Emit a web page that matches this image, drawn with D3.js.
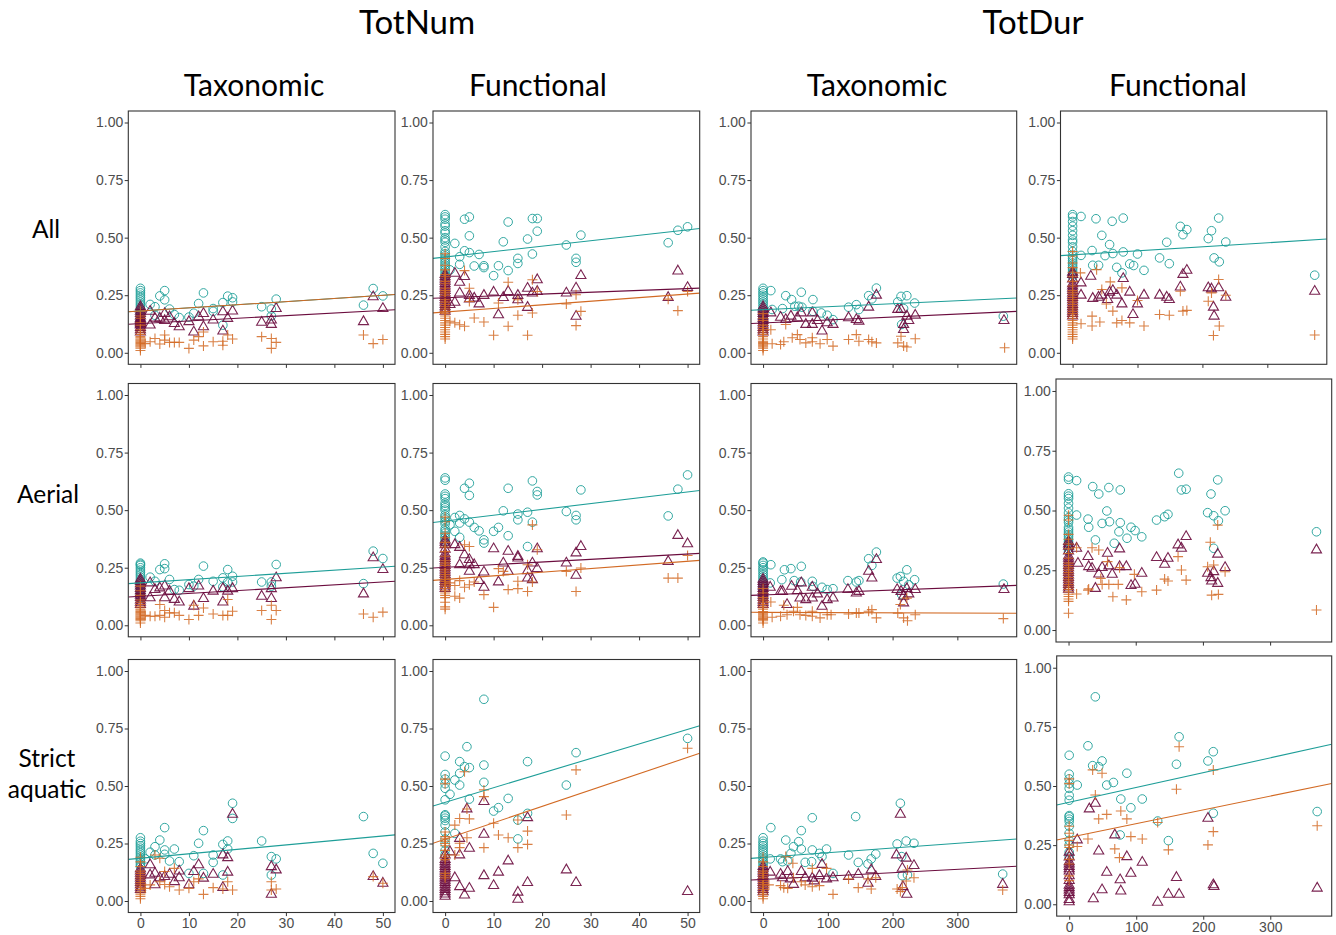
<!DOCTYPE html>
<html><head><meta charset="utf-8">
<script src="https://cdn.jsdelivr.net/npm/d3@7"></script>
<style>
body{margin:0;background:#fff;}
svg{display:block;}
.tick text{font-family:"Liberation Sans",Arial,sans-serif;font-size:14px;fill:#4d4d4d;}
.tick line{stroke:#333;}
.hdr{font-family:Lato,"Open Sans",sans-serif;fill:#000;}
</style></head><body>
<svg id="c" width="1336" height="935"></svg>
<script>
// ---------- labels / ticks ----------
const metricNames = ["TotNum", "TotDur"];
const diversityNames = ["Taxonomic", "Functional"];
const rowNames = [["All"], ["Aerial"], ["Strict", "aquatic"]];
const yTicks = [0, 0.25, 0.5, 0.75, 1];
const xTicksNum = [0, 10, 20, 30, 40, 50];
const xTicksDur = [0, 100, 200, 300];
const yRange = [0, 1];
const xRangeNum = [0, 50];
const xRangeDur = [0, 373];

// ---------- data: series "circle", "triangle", "plus" ----------
// stacks at x = 0
const p1Circle0 = [0.28,0.27,0.26,0.25,0.24,0.23,0.22,0.21,0.20,0.19,0.18,0.17,0.16,0.15,0.14,0.13];
const p1Tri0 = [0.20,0.19,0.18,0.17,0.16,0.15,0.145,0.14,0.135,0.13,0.125,0.12,0.11,0.10,0.09];
const p1Plus0 = [0.18,0.16,0.15,0.13,0.12,0.10,0.09,0.08,0.07,0.065,0.06,0.055,0.05,0.045,0.04,0.035,0.03,0.025,0.02,0.01];
const p1Circle = [[2,0.21],[3,0.20],[4,0.247],[5,0.27],[5,0.23],[6,0.19],[7,0.166],[8,0.153],[10,0.155],[11,0.172],[12,0.214],[13,0.26],[15,0.192],[15,0.18],[17,0.12],[17,0.218],[18,0.246],[19,0.239],[19,0.221],[25,0.20],[27,0.19],[27,0.16],[28,0.233],[46,0.207],[48,0.279],[50,0.247],[3,0.163]];
const p1Tri = [[2,0.18],[2,0.12],[3,0.15],[4,0.15],[5,0.17],[5,0.14],[6,0.156],[7,0.127],[8,0.113],[10,0.135],[11,0.09],[12,0.156],[13,0.17],[13,0.113],[15,0.142],[17,0.178],[17,0.094],[18,0.149],[19,0.181],[25,0.132],[27,0.142],[27,0.123],[28,0.192],[46,0.135],[48,0.243],[50,0.192]];
const p1Plus = [[1,0.04],[2,0.048],[3,0.062],[4,0.038],[5,0.077],[5,0.055],[6,0.045],[7,0.045],[8,0.045],[10,0.019],[11,0.055],[12,0.07],[13,0.09],[13,0.03],[15,0.048],[17,0.033],[17,0.05],[18,0.077],[19,0.06],[25,0.07],[27,0.019],[27,0.062],[28,0.045],[46,0.077],[48,0.04],[50,0.058]];

const p2Circle0 = [0.60,0.59,0.58,0.56,0.55,0.53,0.52,0.50,0.49,0.48,0.46,0.44,0.43,0.42,0.41,0.40,0.39,0.38,0.37,0.36,0.35,0.34,0.33];
const p2Tri0 = [0.34,0.33,0.32,0.31,0.30,0.29,0.28,0.27,0.26,0.25,0.24,0.23,0.22,0.21,0.20,0.19,0.18];
const p2Plus0 = [0.43,0.41,0.38,0.36,0.34,0.33,0.31,0.30,0.28,0.27,0.26,0.25,0.24,0.23,0.22,0.21,0.20,0.19,0.18,0.17,0.16,0.15,0.14,0.13,0.12,0.11,0.10,0.09,0.08,0.07,0.06];
const p2Circle = [[1,0.36],[2,0.475],[3,0.417],[3,0.384],[4,0.58],[4,0.443],[5,0.59],[5,0.508],[5,0.435],[6,0.377],[7,0.427],[8,0.378],[8,0.37],[10,0.335],[11,0.378],[12,0.482],[13,0.568],[13,0.357],[15,0.41],[15,0.388],[17,0.494],[18,0.583],[18,0.429],[19,0.583],[19,0.528],[25,0.468],[27,0.41],[27,0.393],[28,0.511],[46,0.478],[48,0.532],[50,0.547]];
const p2Tri = [[1,0.209],[2,0.219],[2,0.345],[3,0.306],[3,0.259],[4,0.331],[5,0.249],[5,0.233],[6,0.237],[7,0.212],[8,0.249],[10,0.263],[11,0.165],[12,0.24],[13,0.266],[15,0.249],[15,0.23],[17,0.28],[17,0.197],[18,0.259],[19,0.317],[19,0.266],[25,0.259],[27,0.281],[27,0.158],[28,0.335],[46,0.24],[48,0.355],[50,0.283]];
const p2Plus = [[1,0.137],[2,0.13],[3,0.122],[4,0.357],[4,0.115],[5,0.28],[5,0.223],[6,0.151],[8,0.134],[10,0.076],[11,0.216],[13,0.306],[13,0.115],[15,0.163],[15,0.23],[17,0.076],[18,0.317],[18,0.173],[19,0.266],[25,0.212],[27,0.252],[27,0.118],[28,0.18],[46,0.233],[48,0.183],[50,0.266]];

const p3Circle0 = [0.28,0.27,0.26,0.25,0.24,0.23,0.22,0.21,0.20,0.19,0.18,0.17,0.16,0.15,0.14,0.13];
const p3Tri0 = [0.20,0.19,0.18,0.17,0.16,0.15,0.14,0.13,0.12,0.11,0.10,0.09];
const p3Plus0 = [0.17,0.15,0.14,0.12,0.11,0.10,0.09,0.08,0.07,0.06,0.05,0.045,0.04,0.035,0.03,0.025,0.02,0.01];
const p3Circle = [[12,0.27],[14,0.188],[30,0.192],[35,0.248],[44,0.231],[49,0.202],[55,0.202],[59,0.263],[60,0.198],[77,0.231],[77,0.18],[90,0.173],[99,0.163],[108,0.144],[132,0.198],[144,0.209],[148,0.188],[163,0.248],[168,0.234],[175,0.281],[208,0.221],[213,0.245],[217,0.192],[222,0.248],[234,0.216],[371,0.159],[214,0.123]];
const p3Tri = [[12,0.173],[27,0.154],[35,0.144],[43,0.159],[53,0.152],[59,0.173],[66,0.123],[76,0.173],[76,0.123],[84,0.14],[91,0.094],[99,0.13],[108,0.123],[132,0.152],[144,0.144],[148,0.137],[163,0.198],[175,0.25],[208,0.188],[213,0.188],[217,0.123],[217,0.101],[222,0.159],[225,0.14],[235,0.163],[372,0.14]];
const p3Plus = [[12,0.10],[14,0.039],[27,0.036],[32,0.048],[35,0.123],[45,0.065],[53,0.079],[57,0.058],[66,0.043],[76,0.065],[76,0.048],[88,0.039],[99,0.058],[108,0.029],[132,0.058],[144,0.079],[148,0.05],[163,0.058],[168,0.048],[175,0.043],[208,0.043],[213,0.072],[217,0.029],[222,0.025],[235,0.061],[373,0.022]];

const p4Circle0 = [0.60,0.59,0.57,0.55,0.53,0.51,0.49,0.48,0.46,0.44,0.42,0.41,0.40,0.39,0.38,0.37,0.36,0.35,0.34,0.33];
const p4Tri0 = [0.35,0.34,0.32,0.30,0.29,0.28,0.27,0.26,0.25,0.24,0.23,0.22,0.21,0.20,0.19,0.18,0.17,0.16];
const p4Plus0 = [0.44,0.42,0.39,0.37,0.35,0.33,0.31,0.29,0.27,0.26,0.25,0.24,0.23,0.22,0.21,0.20,0.19,0.18,0.17,0.16,0.15,0.14,0.13,0.12,0.11,0.10,0.09,0.08,0.07,0.06];
const p4Circle = [[13,0.592],[13,0.423],[30,0.444],[31,0.38],[36,0.582],[40,0.38],[45,0.51],[50,0.422],[57,0.47],[61,0.571],[62,0.431],[68,0.371],[76,0.347],[78,0.585],[78,0.438],[88,0.386],[94,0.379],[100,0.429],[110,0.358],[134,0.412],[145,0.48],[149,0.387],[166,0.549],[170,0.513],[176,0.535],[209,0.496],[214,0.53],[218,0.412],[225,0.585],[226,0.395],[236,0.481],[373,0.337]];
const p4Tri = [[13,0.303],[13,0.25],[28,0.332],[31,0.236],[40,0.241],[45,0.25],[54,0.231],[57,0.263],[62,0.27],[68,0.25],[76,0.212],[78,0.322],[88,0.263],[93,0.166],[100,0.212],[110,0.25],[134,0.25],[145,0.241],[149,0.231],[166,0.285],[170,0.34],[176,0.358],[209,0.282],[214,0.277],[217,0.198],[218,0.159],[225,0.282],[236,0.241],[373,0.267]];
const p4Plus = [[12,0.347],[13,0.126],[30,0.159],[30,0.116],[37,0.361],[42,0.134],[45,0.275],[52,0.212],[58,0.308],[62,0.181],[68,0.13],[76,0.282],[76,0.14],[88,0.13],[100,0.227],[110,0.116],[134,0.166],[149,0.163],[166,0.267],[170,0.181],[176,0.184],[209,0.224],[214,0.26],[217,0.075],[225,0.318],[226,0.116],[236,0.25],[373,0.077]];

const p5Circle0 = [0.27,0.265,0.26,0.25,0.24,0.23,0.22,0.21,0.20,0.19,0.18,0.17,0.16,0.15,0.14,0.13,0.12];
const p5Tri0 = [0.20,0.19,0.18,0.17,0.16,0.15,0.14,0.13,0.12,0.11,0.10,0.09];
const p5Plus0 = [0.17,0.15,0.13,0.11,0.10,0.09,0.08,0.07,0.065,0.06,0.055,0.05,0.045,0.04,0.035,0.03,0.025,0.02,0.01];
const p5Circle = [[2,0.209],[3,0.191],[4,0.242],[5,0.267],[5,0.246],[6,0.199],[7,0.155],[8,0.152],[10,0.177],[11,0.17],[12,0.199],[13,0.257],[15,0.191],[17,0.206],[17,0.167],[18,0.242],[18,0.188],[19,0.213],[19,0.188],[25,0.188],[27,0.188],[27,0.17],[28,0.264],[46,0.181],[48,0.322],[50,0.29]];
const p5Tri = [[2,0.184],[2,0.119],[3,0.155],[4,0.162],[5,0.17],[5,0.119],[6,0.148],[7,0.112],[8,0.101],[10,0.159],[11,0.083],[12,0.17],[13,0.116],[15,0.148],[17,0.159],[17,0.101],[18,0.148],[19,0.159],[25,0.126],[27,0.159],[27,0.116],[28,0.206],[46,0.136],[48,0.293],[50,0.242]];
const p5Plus = [[1,0.043],[2,0.039],[3,0.039],[4,0.09],[4,0.043],[5,0.064],[5,0.035],[6,0.054],[7,0.054],[8,0.043],[10,0.025],[11,0.087],[12,0.043],[13,0.075],[15,0.049],[17,0.043],[18,0.112],[18,0.043],[19,0.061],[25,0.064],[27,0.087],[27,0.025],[28,0.064],[46,0.049],[48,0.035],[50,0.057]];

const p6Circle0 = [0.64,0.63,0.57,0.56,0.55,0.53,0.52,0.51,0.50,0.48,0.47,0.46,0.45,0.44,0.42,0.41,0.40,0.39,0.38,0.37,0.36];
const p6Tri0 = [0.37,0.36,0.35,0.33,0.31,0.30,0.29,0.28,0.27,0.26,0.25,0.24,0.23,0.22,0.21,0.20,0.19,0.18,0.17,0.16];
const p6Plus0 = [0.47,0.45,0.40,0.38,0.36,0.34,0.32,0.30,0.28,0.27,0.26,0.25,0.24,0.23,0.22,0.21,0.20,0.19,0.18,0.17,0.16,0.15,0.14,0.13,0.12,0.10,0.08,0.07];
const p6Circle = [[1,0.436],[2,0.468],[2,0.408],[3,0.477],[3,0.444],[3,0.382],[4,0.595],[4,0.462],[5,0.617],[5,0.564],[5,0.448],[6,0.425],[7,0.41],[8,0.371],[8,0.357],[10,0.408],[11,0.425],[12,0.497],[13,0.595],[13,0.389],[15,0.483],[15,0.458],[17,0.491],[17,0.342],[18,0.627],[18,0.448],[19,0.581],[19,0.566],[25,0.494],[27,0.477],[27,0.458],[28,0.588],[46,0.475],[48,0.591],[50,0.653]];
const p6Tri = [[2,0.35],[3,0.338],[3,0.263],[4,0.306],[5,0.285],[5,0.263],[5,0.234],[6,0.263],[7,0.194],[8,0.231],[8,0.165],[10,0.332],[11,0.188],[12,0.27],[13,0.321],[13,0.234],[15,0.299],[15,0.292],[17,0.237],[17,0.205],[18,0.27],[18,0.198],[19,0.332],[19,0.246],[25,0.27],[27,0.314],[27,0.217],[28,0.342],[46,0.277],[48,0.39],[50,0.354]];
const p6Plus = [[1,0.184],[2,0.173],[2,0.126],[3,0.194],[3,0.118],[4,0.35],[4,0.165],[5,0.342],[5,0.176],[6,0.188],[8,0.133],[10,0.078],[11,0.246],[12,0.234],[13,0.155],[15,0.159],[15,0.191],[17,0.147],[17,0.263],[18,0.436],[18,0.188],[19,0.328],[25,0.234],[27,0.147],[28,0.249],[46,0.205],[48,0.205],[50,0.303]];

const p7Circle0 = [0.275,0.27,0.26,0.25,0.24,0.23,0.22,0.21,0.20,0.19,0.18,0.17,0.16,0.15,0.14,0.13,0.12];
const p7Tri0 = [0.20,0.19,0.18,0.17,0.16,0.15,0.14,0.13,0.12,0.11,0.10,0.09];
const p7Plus0 = [0.16,0.14,0.12,0.11,0.10,0.09,0.08,0.07,0.06,0.055,0.05,0.045,0.04,0.035,0.03,0.025,0.02,0.01];
const p7Circle = [[12,0.263],[11,0.184],[29,0.198],[33,0.241],[43,0.246],[48,0.194],[59,0.256],[58,0.188],[76,0.191],[77,0.169],[91,0.165],[99,0.155],[108,0.159],[131,0.194],[144,0.188],[148,0.194],[163,0.289],[168,0.26],[175,0.318],[207,0.205],[212,0.212],[217,0.191],[222,0.241],[225,0.176],[234,0.198],[371,0.179],[214,0.133]];
const p7Tri = [[11,0.165],[27,0.147],[30,0.147],[37,0.09],[44,0.169],[53,0.15],[57,0.118],[59,0.184],[66,0.111],[76,0.165],[76,0.118],[84,0.136],[91,0.082],[99,0.111],[108,0.118],[131,0.155],[144,0.14],[148,0.147],[163,0.234],[168,0.205],[175,0.285],[207,0.155],[213,0.147],[217,0.097],[217,0.126],[222,0.159],[225,0.136],[235,0.155],[372,0.155]];
const p7Plus = [[12,0.101],[14,0.035],[27,0.039],[32,0.087],[37,0.046],[47,0.061],[53,0.078],[57,0.046],[66,0.043],[76,0.061],[76,0.039],[88,0.032],[99,0.046],[105,0.046],[132,0.049],[144,0.053],[148,0.053],[163,0.061],[168,0.068],[175,0.032],[208,0.053],[212,0.09],[217,0.032],[222,0.118],[223,0.02],[235,0.046],[371,0.029]];

const p8Circle0 = [0.64,0.63,0.57,0.56,0.55,0.53,0.51,0.49,0.47,0.46,0.45,0.43,0.42,0.41,0.40,0.39,0.38,0.37,0.36,0.35,0.34,0.33];
const p8Tri0 = [0.37,0.36,0.35,0.33,0.31,0.30,0.29,0.28,0.27,0.26,0.25,0.24,0.23,0.22,0.21,0.20,0.19,0.18,0.17];
const p8Plus0 = [0.48,0.46,0.40,0.38,0.36,0.34,0.32,0.30,0.28,0.27,0.26,0.25,0.24,0.23,0.22,0.21,0.20,0.19,0.18,0.17,0.16,0.15,0.14,0.13,0.12,0.07];
const p8Circle = [[12,0.625],[12,0.481],[29,0.464],[30,0.43],[36,0.6],[40,0.377],[45,0.569],[50,0.446],[57,0.498],[60,0.596],[61,0.453],[68,0.363],[77,0.586],[77,0.449],[75,0.411],[87,0.384],[93,0.43],[99,0.416],[109,0.39],[131,0.46],[143,0.474],[148,0.484],[164,0.656],[168,0.586],[175,0.589],[207,0.491],[212,0.569],[216,0.478],[216,0.342],[222,0.628],[223,0.457],[233,0.499],[369,0.411]];
const p8Tri = [[12,0.342],[14,0.279],[29,0.307],[30,0.265],[35,0.258],[40,0.174],[45,0.234],[50,0.261],[58,0.321],[60,0.268],[65,0.233],[76,0.339],[76,0.265],[86,0.265],[93,0.186],[99,0.191],[109,0.237],[131,0.303],[143,0.275],[148,0.3],[163,0.356],[168,0.342],[175,0.391],[207,0.237],[212,0.219],[213,0.205],[216,0.244],[222,0.195],[222,0.317],[233,0.261],[369,0.335]];
const p8Plus = [[12,0.344],[12,0.151],[29,0.167],[30,0.172],[35,0.344],[45,0.335],[48,0.216],[50,0.191],[58,0.286],[60,0.191],[66,0.139],[74,0.191],[76,0.261],[86,0.126],[98,0.233],[109,0.16],[131,0.167],[143,0.213],[148,0.205],[163,0.307],[168,0.251],[175,0.209],[207,0.265],[211,0.367],[213,0.146],[216,0.272],[222,0.439],[223,0.149],[233,0.244],[369,0.084]];

const p9Circle0 = [0.275,0.26,0.25,0.24,0.23,0.22,0.21,0.20,0.19,0.18,0.17,0.16,0.15];
const p9Tri0 = [0.14,0.13,0.12,0.11,0.10,0.09,0.08,0.07,0.06,0.05];
const p9Plus0 = [0.19,0.17,0.15,0.13,0.12,0.11,0.10,0.09,0.08,0.07,0.06,0.05,0.04,0.03,0.02,0.01];
const p9Circle = [[1,0.183],[2,0.212],[3,0.236],[3,0.2],[4,0.265],[5,0.319],[5,0.222],[5,0.203],[6,0.174],[7,0.226],[8,0.171],[10,0.12],[11,0.197],[12,0.251],[13,0.306],[13,0.12],[15,0.2],[15,0.168],[17,0.246],[17,0.113],[18,0.261],[18,0.226],[19,0.425],[19,0.359],[25,0.261],[27,0.193],[27,0.113],[28,0.183],[46,0.367],[48,0.207],[50,0.164]];
const p9Tri = [[2,0.157],[2,0.113],[3,0.12],[3,0.07],[4,0.101],[5,0.106],[6,0.116],[7,0.084],[8,0.13],[8,0.101],[10,0.07],[11,0.128],[12,0.157],[13,0.099],[15,0.116],[17,0.2],[17,0.058],[18,0.188],[18,0.125],[19,0.377],[27,0.149],[27,0.029],[28,0.135],[48,0.106],[50,0.077]];
const p9Plus = [[1,0.055],[2,0.07],[3,0.2],[4,0.186],[4,0.084],[5,0.128],[5,0.072],[6,0.062],[7,0.142],[8,0.048],[10,0.055],[11,0.084],[12,0.096],[13,0.029],[15,0.058],[17,0.052],[18,0.084],[19,0.048],[27,0.084],[27,0.048],[28,0.052],[48,0.106],[50,0.077]];

const p10Circle0 = [0.63,0.55,0.53,0.51,0.49,0.44,0.375,0.37,0.36,0.35,0.33,0.30,0.27,0.25,0.22,0.20];
const p10Tri0 = [0.20,0.18,0.17,0.16,0.15,0.14,0.13,0.12,0.11,0.10,0.09,0.08,0.07,0.06,0.05,0.04,0.03,0.02];
const p10Plus0 = [0.53,0.51,0.30,0.28,0.27,0.26,0.25,0.24,0.22,0.20,0.19,0.18,0.12,0.11,0.10];
const p10Circle = [[1,0.464],[2,0.526],[2,0.294],[3,0.606],[3,0.555],[3,0.504],[4,0.584],[4.5,0.671],[5,0.58],[5,0.443],[8,0.877],[8,0.591],[8,0.516],[10,0.391],[11,0.406],[13,0.446],[15,0.352],[15,0.27],[17,0.606],[17,0.381],[25,0.504],[27,0.645],[50,0.707]];
const p10Tri = [[1,0.214],[2,0.101],[3,0.272],[3,0.2],[3,0.062],[4,0.026],[4.5,0.4],[5,0.229],[5,0.055],[8,0.29],[8,0.432],[8,0.11],[10,0.067],[11,0.125],[13,0.174],[15,0.038],[15,0.007],[17,0.362],[17,0.08],[25,0.135],[27,0.08],[50,0.041]];
const p10Plus = [[2,0.33],[2,0.2],[3,0.359],[3,0.251],[3,0.232],[4,0.562],[5,0.357],[4.5,0.4],[4.5,0.275],[8,0.483],[8,0.454],[8,0.232],[10,0.338],[11,0.287],[13,0.275],[15,0.352],[15,0.232],[17,0.304],[17,0.246],[25,0.374],[27,0.57],[50,0.664]];

const p11Circle0 = [0.275,0.26,0.25,0.24,0.23,0.22,0.21,0.20,0.19,0.18,0.17,0.16,0.15];
const p11Tri0 = [0.15,0.14,0.13,0.12,0.11,0.10,0.09,0.08,0.07,0.06,0.05,0.04];
const p11Plus0 = [0.19,0.17,0.15,0.13,0.12,0.11,0.10,0.09,0.08,0.07,0.06,0.05,0.04,0.03,0.02,0.01];
const p11Circle = [[11,0.183],[12,0.319],[27,0.183],[30,0.171],[35,0.265],[38,0.174],[43,0.207],[47,0.236],[55,0.258],[59,0.306],[59,0.226],[65,0.168],[76,0.362],[76,0.222],[75,0.171],[87,0.207],[91,0.193],[98,0.226],[108,0.12],[132,0.2],[143,0.367],[147,0.168],[162,0.161],[167,0.183],[174,0.204],[207,0.248],[212,0.425],[214,0.193],[215,0.11],[221,0.261],[223,0.113],[233,0.251],[370,0.117]];
const p11Tri = [[11,0.125],[27,0.116],[30,0.101],[38,0.128],[42,0.096],[47,0.072],[59,0.128],[65,0.101],[76,0.099],[79,0.087],[87,0.11],[91,0.159],[98,0.096],[108,0.101],[132,0.106],[147,0.116],[162,0.077],[167,0.135],[174,0.106],[206,0.2],[212,0.377],[215,0.142],[216,0.062],[221,0.186],[222,0.029],[233,0.154],[370,0.072]];
const p11Plus = [[9,0.07],[27,0.067],[32,0.058],[35,0.193],[38,0.055],[46,0.164],[47,0.101],[59,0.084],[65,0.07],[76,0.142],[76,0.062],[87,0.067],[98,0.142],[108,0.029],[132,0.096],[147,0.058],[162,0.096],[167,0.052],[174,0.101],[207,0.052],[212,0.041],[215,0.058],[221,0.087],[223,0.135],[233,0.101],[370,0.048]];

const p12Circle0 = [0.63,0.55,0.53,0.51,0.49,0.46,0.44,0.375,0.37,0.36,0.35,0.33,0.30,0.27,0.25,0.22,0.20];
const p12Tri0 = [0.22,0.20,0.18,0.17,0.16,0.15,0.14,0.12,0.10,0.08,0.07,0.06,0.05,0.04,0.02,0.01];
const p12Plus0 = [0.53,0.51,0.33,0.30,0.27,0.25,0.24,0.19,0.17,0.12,0.10];
const p12Circle = [[12,0.504],[28,0.67],[35,0.586],[39,0.877],[44,0.582],[49,0.606],[56,0.504],[66,0.515],[76,0.293],[77,0.445],[86,0.554],[92,0.408],[109,0.445],[132,0.352],[148,0.269],[160,0.592],[164,0.708],[207,0.606],[215,0.645],[215,0.385],[370,0.392]];
const p12Tri = [[12,0.272],[30,0.403],[39,0.427],[36,0.023],[44,0.225],[49,0.061],[56,0.135],[68,0.293],[76,0.103],[77,0.056],[86,0.201],[92,0.131],[109,0.177],[132,0.008],[148,0.042],[160,0.113],[164,0.042],[207,0.363],[215,0.082],[216,0.075],[370,0.068]];
const p12Plus = [[12,0.244],[28,0.276],[35,0.568],[39,0.462],[44,0.361],[49,0.554],[56,0.38],[68,0.234],[75,0.197],[77,0.394],[86,0.361],[92,0.286],[109,0.276],[132,0.346],[148,0.23],[160,0.486],[164,0.666],[207,0.251],[215,0.568],[215,0.307],[370,0.332]];

// fitted lines: [panel, series, intercept, slope]
const fitLines = [
  [1,"circle",0.1814,0.00136],[1,"plus",0.1814,0.00136],[1,"triangle",0.1269,0.001145],
  [2,"circle",0.4159,0.002364],[2,"triangle",0.239,0.0008],[2,"plus",0.177,0.00156],
  [3,"circle",0.1874,0.000129],[3,"triangle",0.1294,0.000129],
  [4,"circle",0.4253,0.000175],
  [5,"circle",0.1845,0.00137],[5,"triangle",0.126,0.00124],
  [6,"circle",0.4528,0.00252],[6,"triangle",0.2515,0.001156],[6,"plus",0.199,0.00158],
  [7,"triangle",0.132,0.000105],[7,"plus",0.0562,-0.0000107],
  [9,"circle",0.186,0.00193],
  [10,"circle",0.429,0.00635],[10,"plus",0.269,0.00711],
  [11,"circle",0.1893,0.000205],[11,"triangle",0.094,0.000145],
  [12,"circle",0.4314,0.000625],[12,"plus",0.2829,0.000582]
];

const panelData = {
  1:[p1Circle0,p1Circle,p1Tri0,p1Tri,p1Plus0,p1Plus],
  2:[p2Circle0,p2Circle,p2Tri0,p2Tri,p2Plus0,p2Plus],
  3:[p3Circle0,p3Circle,p3Tri0,p3Tri,p3Plus0,p3Plus],
  4:[p4Circle0,p4Circle,p4Tri0,p4Tri,p4Plus0,p4Plus],
  5:[p5Circle0,p5Circle,p5Tri0,p5Tri,p5Plus0,p5Plus],
  6:[p6Circle0,p6Circle,p6Tri0,p6Tri,p6Plus0,p6Plus],
  7:[p7Circle0,p7Circle,p7Tri0,p7Tri,p7Plus0,p7Plus],
  8:[p8Circle0,p8Circle,p8Tri0,p8Tri,p8Plus0,p8Plus],
  9:[p9Circle0,p9Circle,p9Tri0,p9Tri,p9Plus0,p9Plus],
  10:[p10Circle0,p10Circle,p10Tri0,p10Tri,p10Plus0,p10Plus],
  11:[p11Circle0,p11Circle,p11Tri0,p11Tri,p11Plus0,p11Plus],
  12:[p12Circle0,p12Circle,p12Tri0,p12Tri,p12Plus0,p12Plus]
};

// ---------- layout (pixels) ----------
const colX = [[128.3,395],[433,699.7],[751,1016.7],[1060.5,1326.8]];
const rowY = [[111,364.3],[383.5,636.8],[659.5,912.5]];
const rectOverride = {8:{x0:1056,x1:1331.7,y0:379,y1:642}, 12:{x0:1056.7,x1:1331.7,y0:655.9,y1:916.1}};
const colors = {circle:"#1e9e98", triangle:"#6b0c3e", plus:"#d26a24"};

const svg = d3.select("#c");
function expand(r){const d=(r[1]-r[0])*0.05;return [r[0]-d,r[1]+d];}

const plusPath = "M-5,0H5M0,-5V5";
const triPath = d3.symbol().type(d3.symbolTriangle).size(44)();

for (let row=0; row<3; row++){
  for (let col=0; col<4; col++){
    const pid = row*4+col+1;
    const rc = rectOverride[pid] || {x0:colX[col][0],x1:colX[col][1],y0:rowY[row][0],y1:rowY[row][1]};
    const isDur = col>=2;
    const x = d3.scaleLinear().domain(expand(isDur?xRangeDur:xRangeNum)).range([rc.x0,rc.x1]);
    const y = d3.scaleLinear().domain(expand(yRange)).range([rc.y1,rc.y0]);
    const g = svg.append("g");
    g.append("rect").attr("x",rc.x0).attr("y",rc.y0).attr("width",rc.x1-rc.x0).attr("height",rc.y1-rc.y0)
      .attr("fill","#fff");
    const clipId = "clip"+pid;
    svg.append("clipPath").attr("id",clipId).append("rect").attr("x",rc.x0).attr("y",rc.y0)
      .attr("width",rc.x1-rc.x0).attr("height",rc.y1-rc.y0);
    const ya = d3.axisLeft(y).tickValues(yTicks).tickFormat(d3.format(".2f")).tickSize(3.6).tickPadding(1.5);
    const yg = g.append("g").attr("transform",`translate(${rc.x0},0)`).call(ya);
    yg.select(".domain").remove();
    const xa = d3.axisBottom(x).tickValues(isDur?xTicksDur:xTicksNum).tickSize(3.6).tickPadding(2);
    if (row<2) xa.tickFormat("");
    const xg = g.append("g").attr("transform",`translate(0,${rc.y1})`).call(xa);
    xg.select(".domain").remove();

    const pts = g.append("g").attr("clip-path",`url(#${clipId})`);
    const d = panelData[pid];
    const circ = d[0].map(v=>[0,v]).concat(d[1]);
    const tri = d[2].map(v=>[0,v]).concat(d[3]);
    const plus = d[4].map(v=>[0,v]).concat(d[5]);
    pts.selectAll("circle.s").data(circ).join("circle").attr("class","s")
      .attr("cx",p=>x(p[0])).attr("cy",p=>y(p[1])).attr("r",4.3)
      .attr("fill","none").attr("stroke",colors.circle).attr("stroke-width",1).attr("stroke-opacity",0.9);
    pts.selectAll("path.t").data(tri).join("path").attr("class","t")
      .attr("transform",p=>`translate(${x(p[0])},${y(p[1])})`).attr("d",triPath)
      .attr("fill","none").attr("stroke",colors.triangle).attr("stroke-width",1.1).attr("stroke-opacity",0.9);
    pts.selectAll("path.p").data(plus).join("path").attr("class","p")
      .attr("transform",p=>`translate(${x(p[0])},${y(p[1])})`).attr("d",plusPath)
      .attr("fill","none").attr("stroke",colors.plus).attr("stroke-width",1.1).attr("stroke-opacity",0.85);

    const lines = fitLines.filter(f=>f[0]===pid);
    const dom = x.domain();
    pts.selectAll("line.fit").data(lines).join("line").attr("class","fit")
      .attr("x1",x(dom[0])).attr("x2",x(dom[1]))
      .attr("y1",f=>y(f[2]+f[3]*dom[0])).attr("y2",f=>y(f[2]+f[3]*dom[1]))
      .attr("stroke",f=>colors[f[1]]).attr("stroke-width",1.1);

    g.append("rect").attr("x",rc.x0).attr("y",rc.y0).attr("width",rc.x1-rc.x0).attr("height",rc.y1-rc.y0)
      .attr("fill","none").attr("stroke","#333").attr("stroke-width",1.1);
  }
}

// ---------- headers ----------
const metricX = [417, 1033];
metricNames.forEach((m,i)=>svg.append("text").attr("class","hdr").attr("x",metricX[i]).attr("y",34)
  .attr("text-anchor","middle").attr("font-size",33).text(m));
const colCenters = [254, 538, 877, 1178];
colCenters.forEach((cx,i)=>svg.append("text").attr("class","hdr").attr("x",cx).attr("y",96)
  .attr("text-anchor","middle").attr("font-size",30).text(diversityNames[i%2]));
const rowLabelY = [[238],[503],[767,798]];
const rowLabelX = [46,48,47];
rowNames.forEach((lines,i)=>lines.forEach((t,j)=>svg.append("text").attr("class","hdr")
  .attr("x",rowLabelX[i]).attr("y",rowLabelY[i][j]).attr("text-anchor","middle").attr("font-size",24.5).text(t)));
</script></body></html>
